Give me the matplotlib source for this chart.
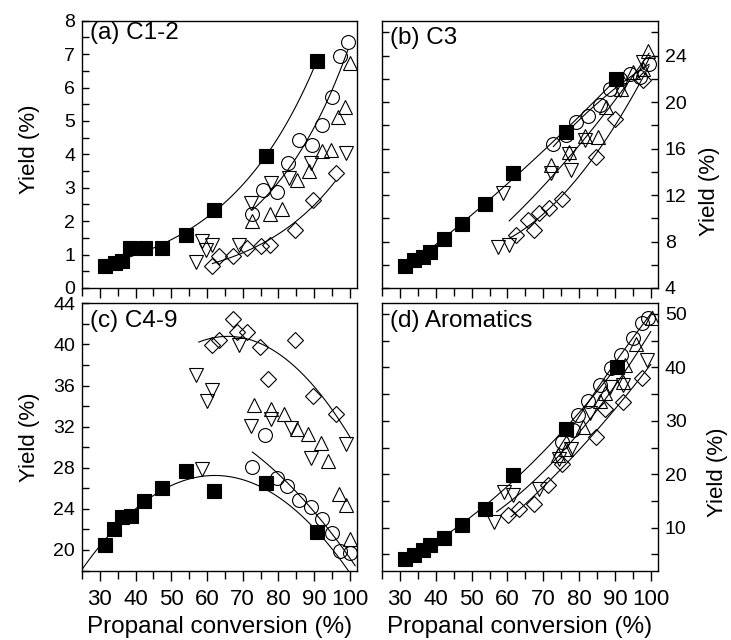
import numpy as np
import matplotlib
matplotlib.use('Agg')
import matplotlib.pyplot as plt
from matplotlib.ticker import MultipleLocator
from matplotlib import font_manager

# ---- data (x = propanal conversion %, y = yield %) ----
# (a) C1-2
a_sq_x = [31.3, 34.1, 36.3, 38.4, 42.5, 47.5, 54.2, 61.9, 76.4, 90.9]
a_sq_y = [0.65, 0.75, 0.80, 1.20, 1.20, 1.20, 1.60, 2.32, 3.96, 6.79]
a_ci_x = [72.7, 75.7, 79.5, 82.6, 85.7, 89.5, 92.3, 95.1, 97.2, 99.4]
a_ci_y = [2.20, 2.94, 2.86, 3.74, 4.42, 4.27, 4.87, 5.72, 6.94, 7.36]
a_up_x = [72.5, 77.6, 81.1, 85.1, 88.5, 92.1, 94.6, 96.7, 98.6, 100.0]
a_up_y = [2.00, 2.20, 2.35, 3.24, 3.49, 4.09, 4.12, 5.12, 5.42, 6.74]
a_dn_x = [56.8, 58.6, 59.8, 61.5, 68.9, 72.2, 77.8, 82.9, 89.0, 99.0]
a_dn_y = [0.78, 1.40, 1.13, 1.30, 1.28, 2.54, 3.14, 3.29, 3.74, 4.04]
a_di_x = [61.5, 63.3, 67.3, 71.3, 75.0, 77.6, 84.6, 89.7, 96.0]
a_di_y = [0.65, 0.95, 0.95, 1.20, 1.25, 1.30, 1.73, 2.62, 3.44]

# (b) C3
b_sq_x = [31.4, 33.9, 36.3, 38.4, 42.3, 47.3, 53.8, 61.6, 76.2, 90.4]
b_sq_y = [5.86, 6.37, 6.71, 7.14, 8.20, 9.49, 11.23, 13.86, 17.43, 22.0]
b_ci_x = [72.8, 76.4, 79.2, 82.5, 85.7, 88.5, 91.3, 94.1, 96.9, 99.5]
b_ci_y = [16.43, 17.14, 18.29, 18.77, 19.71, 21.14, 22.0, 22.43, 22.14, 23.29]
b_up_x = [72.2, 77.3, 81.5, 85.3, 87.6, 91.8, 95.1, 97.7, 99.3]
b_up_y = [14.57, 15.71, 17.06, 17.0, 19.57, 21.14, 22.57, 22.86, 24.43]
b_dn_x = [57.3, 60.5, 58.7, 72.2, 77.3, 77.8, 81.5, 91.3, 97.9]
b_dn_y = [7.57, 7.71, 12.14, 13.86, 15.51, 14.14, 16.77, 21.0, 23.43]
b_di_x = [62.4, 65.7, 67.5, 68.9, 71.7, 75.3, 84.6, 89.9, 97.9]
b_di_y = [8.57, 9.86, 9.00, 10.43, 10.86, 11.63, 15.29, 18.57, 21.91]

# (c) C4-9
c_sq_x = [31.3, 33.9, 36.3, 38.6, 42.3, 47.5, 54.2, 61.9, 76.4, 90.7]
c_sq_y = [20.49, 22.04, 23.24, 23.33, 24.79, 25.99, 27.67, 25.76, 26.47, 21.78]
c_ci_x = [72.7, 76.1, 79.5, 82.5, 85.7, 89.2, 92.1, 94.9, 97.2, 100.0]
c_ci_y = [28.09, 31.17, 27.02, 26.21, 24.85, 24.21, 22.98, 21.68, 19.94, 19.68]
c_up_x = [73.1, 77.8, 81.5, 85.3, 88.3, 91.8, 93.8, 96.9, 98.8, 100.0]
c_up_y = [34.08, 33.75, 33.27, 31.8, 31.33, 30.36, 28.67, 25.4, 24.37, 21.04]
c_dn_x = [56.8, 61.5, 60.1, 68.9, 72.2, 77.8, 83.4, 89.2, 98.8, 58.7]
c_dn_y = [36.99, 35.53, 34.47, 39.9, 32.07, 32.78, 31.88, 28.9, 30.29, 27.83]
c_di_x = [61.5, 63.3, 67.3, 68.5, 71.1, 74.8, 77.1, 84.6, 89.7, 96.0]
c_di_y = [39.9, 40.39, 42.49, 41.2, 41.2, 39.74, 36.67, 40.39, 34.98, 33.27]

# (d) Aromatics
d_sq_x = [31.4, 33.9, 36.3, 38.4, 42.3, 47.3, 53.8, 61.6, 76.2, 90.6]
d_sq_y = [4.19, 4.94, 5.75, 6.69, 8.13, 10.44, 13.56, 19.81, 28.56, 40.13]
d_ci_x = [75.3, 78.4, 79.7, 82.5, 85.7, 89.0, 91.8, 95.1, 97.4, 99.3]
d_ci_y = [26.06, 28.25, 31.19, 33.69, 36.69, 39.8, 42.31, 45.44, 48.25, 49.19]
d_up_x = [74.1, 76.4, 81.1, 85.7, 87.1, 92.3, 92.7, 96.0, 100.2]
d_up_y = [23.56, 24.81, 28.88, 33.69, 35.13, 37.31, 40.44, 44.31, 49.19]
d_dn_x = [56.3, 59.1, 61.5, 68.9, 74.5, 77.8, 82.9, 88.5, 92.3, 98.8]
d_dn_y = [11.06, 16.69, 16.06, 17.31, 22.94, 24.81, 31.38, 36.38, 36.69, 41.38]
d_di_x = [60.1, 63.3, 67.5, 71.3, 75.3, 84.8, 87.1, 92.3, 97.4]
d_di_y = [12.31, 13.56, 14.5, 17.94, 22.0, 27.0, 32.3, 33.56, 37.94]

panel_titles = ['(a) C1-2', '(b) C3', '(c) C4-9', '(d) Aromatics']

# ---- fonts ----
names = set(f.name for f in font_manager.fontManager.ttflist)
base = 'Liberation Sans' if 'Liberation Sans' in names else 'DejaVu Sans'
narrow = 'Liberation Sans Narrow' if 'Liberation Sans Narrow' in names else base
plt.rcParams['font.family'] = [base, 'DejaVu Sans']
plt.rcParams['axes.linewidth'] = 1.0

W, H = 731, 640
fig = plt.figure(figsize=(W / 100, H / 100), dpi=100)
ax_a = fig.add_axes([82 / W, 1 - 288 / H, 275 / W, 267.3 / H])
ax_b = fig.add_axes([382 / W, 1 - 288 / H, 276 / W, 267.3 / H])
ax_c = fig.add_axes([82 / W, 1 - 570.5 / H, 275 / W, 267.2 / H])
ax_d = fig.add_axes([382 / W, 1 - 570.5 / H, 276 / W, 267.2 / H])

mk = dict(color='black', linestyle='none', markeredgewidth=0.8)


def draw_points(ax, sq, ci, up, dn, di):
    ax.plot(*sq, marker='s', markersize=9.5, markerfacecolor='black', **mk)
    ax.plot(*ci, marker='o', markersize=10, fillstyle='none', **mk)
    ax.plot(*up, marker='^', markersize=10.5, fillstyle='none', **mk)
    ax.plot(*dn, marker='v', markersize=10.5, fillstyle='none', **mk)
    ax.plot(*di, marker='D', markersize=8, fillstyle='none', **mk)


def exp_fit(ax, x, y):
    k = np.polyfit(x, np.log(y), 1)
    xx = np.linspace(min(x), max(x), 100)
    ax.plot(xx, np.exp(np.polyval(k, xx)), color='black', lw=0.8)


def poly_fit(ax, x, y, deg, x0=None, x1=None):
    k = np.polyfit(x, y, deg)
    xx = np.linspace(min(x) if x0 is None else x0, max(x) if x1 is None else x1, 100)
    ax.plot(xx, np.polyval(k, xx), color='black', lw=0.8)


# (a)
exp_fit(ax_a, a_sq_x, a_sq_y)
exp_fit(ax_a, a_ci_x, a_ci_y)
exp_fit(ax_a, a_di_x, a_di_y)
draw_points(ax_a, (a_sq_x, a_sq_y), (a_ci_x, a_ci_y), (a_up_x, a_up_y),
            (a_dn_x, a_dn_y), (a_di_x, a_di_y))

# (b)
poly_fit(ax_b, b_sq_x, b_sq_y, 2)
poly_fit(ax_b, b_ci_x, b_ci_y, 2)
poly_fit(ax_b, b_di_x, b_di_y, 2, 60.5, 99.5)
poly_fit(ax_b, b_dn_x + b_up_x, b_dn_y + b_up_y, 2, 60.5, 99.5)
draw_points(ax_b, (b_sq_x, b_sq_y), (b_ci_x, b_ci_y), (b_up_x, b_up_y),
            (b_dn_x, b_dn_y), (b_di_x, b_di_y))

# (c)
poly_fit(ax_c, c_sq_x, c_sq_y, 2, 25, 101.5)
poly_fit(ax_c, c_ci_x, c_ci_y, 2, 72.7, 101.5)
poly_fit(ax_c, c_di_x, c_di_y, 2, 57.7, 100.2)
draw_points(ax_c, (c_sq_x, c_sq_y), (c_ci_x, c_ci_y), (c_up_x, c_up_y),
            (c_dn_x, c_dn_y), (c_di_x, c_di_y))

# (d)
poly_fit(ax_d, d_sq_x, d_sq_y, 2)
poly_fit(ax_d, d_ci_x, d_ci_y, 2, 73, 100.5)
poly_fit(ax_d, d_di_x, d_di_y, 2, 61, 100)
poly_fit(ax_d, d_dn_x + d_up_x, d_dn_y + d_up_y, 2, 57, 100)
draw_points(ax_d, (d_sq_x, d_sq_y), (d_ci_x, d_ci_y), (d_up_x, d_up_y),
            (d_dn_x, d_dn_y), (d_di_x, d_di_y))

# ---- axes styling ----
ylims = [(0, 8), (4, 27), (18, 44), (2, 52)]
ymaj = [1, 4, 4, 10]
ymin = [0.5, 2, 2, 5]
title_y = [0.995, 0.975, 0.975, 0.975]
for i, ax in enumerate([ax_a, ax_b, ax_c, ax_d]):
    ax.set_xlim(25, 102)
    ax.set_ylim(*ylims[i])
    ax.xaxis.set_major_locator(MultipleLocator(10))
    ax.xaxis.set_minor_locator(MultipleLocator(5))
    ax.yaxis.set_major_locator(MultipleLocator(ymaj[i]))
    ax.yaxis.set_minor_locator(MultipleLocator(ymin[i]))
    ax.tick_params(axis='x', which='major', direction='out', length=7.5, width=1.0)
    ax.tick_params(axis='x', which='minor', direction='out', length=5.5, width=1.0)
    ax.tick_params(axis='y', which='both', direction='in', length=5, width=1.0,
                   labelsize=14, pad=5)
    ax.text(0.03, title_y[i], panel_titles[i], transform=ax.transAxes,
            fontsize=17.5, va='top', ha='left')
    if i < 2:
        ax.tick_params(axis='x', labelbottom=False)
    else:
        ax.tick_params(axis='x', labelsize=16, pad=6)
        for lab in ax.get_xticklabels():
            lab.set_family([narrow, base])
    if i % 2 == 1:
        ax.yaxis.tick_right()
        ax.tick_params(axis='y', which='both', left=True, length=5)

ax_b.set_yticks([4, 8, 12, 16, 20, 24])
ax_d.set_yticks([10, 20, 30, 40, 50])
ax_c.set_yticks([20, 24, 28, 32, 36, 40, 44])

# axis titles, placed where they sit in the reference
ylab_pos = [(30, 149), (710, 191), (30, 437), (718, 472)]
for x, y in ylab_pos:
    fig.text(x / W, 1 - y / H, 'Yield (%)', rotation=90, ha='center',
             va='center', fontsize=16)
for x in [219.5, 520]:
    fig.text(x / W, 1 - 627 / H, 'Propanal conversion (%)', ha='center',
             va='center', fontsize=17.5)

fig.savefig('out.png', dpi=100)
